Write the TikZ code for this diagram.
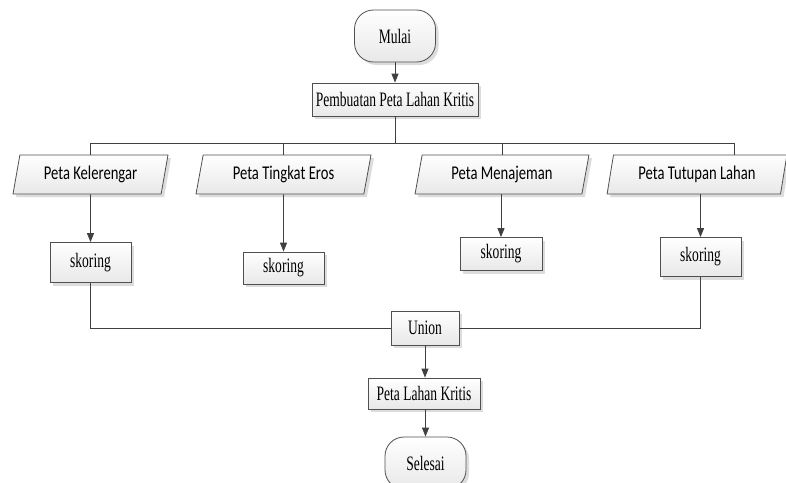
\documentclass[tikz,border=0pt]{standalone}
\usepackage{fontspec}
\newfontfamily\boxfont[FakeStretch=0.66]{Liberation Serif}
\newfontfamily\parafont[FakeStretch=0.75]{Carlito}
\usetikzlibrary{arrows.meta,shapes.geometric,shadows}
\definecolor{linec}{HTML}{404040}
\definecolor{edgec}{HTML}{505050}
\tikzset{
 base/.style={draw=edgec, line width=0.8pt, top color=white, bottom color=gray!18,
   drop shadow={shadow xshift=3pt, shadow yshift=-3pt, fill=gray!45, opacity=0.6},
   inner sep=0pt, font=\boxfont\fontsize{20.5}{22}\selectfont},
 proc/.style={base, rectangle},
 term/.style={base, rectangle, rounded corners=19pt, minimum width=81pt, minimum height=52pt},
 io/.style={base, trapezium, trapezium left angle=75, trapezium right angle=105,
   trapezium stretches=true, minimum height=39pt, font=\parafont\fontsize{19.5}{21}\selectfont},
 conn/.style={draw=linec, line width=0.9pt},
 arr/.style={conn, -{Triangle[length=9pt,width=7pt]}},
}
\begin{document}
\begin{tikzpicture}[x=1pt,y=-1pt]
\clip (0,0) rectangle (786,482);
\fill[white] (0,0) rectangle (786,482);
\node[term] (mulai) at (395,36) {Mulai};
\node[proc, minimum width=166pt, minimum height=33pt] (pemb) at (395,99.5) {Pembuatan Peta Lahan Kritis};
\coordinate (br) at (395,143);
\coordinate (brr) at (734,143);
\node[io, minimum width=155pt] (p1) at (90.5,174.5) {Peta Kelerengar};
\node[io, minimum width=175pt] (p2) at (283.5,174.5) {Peta Tingkat Eros};
\node[io, minimum width=174pt] (p3) at (502,174.5) {Peta Menajeman};
\node[io, minimum width=180pt] (p4) at (697,174.5) {Peta Tutupan Lahan};
\node[proc, minimum width=81pt, minimum height=40pt] (sk1) at (90.5,262.5) {skoring};
\node[proc, minimum width=81pt, minimum height=32pt] (sk2) at (283.5,268) {skoring};
\node[proc, minimum width=82pt, minimum height=33pt] (sk3) at (501,254) {skoring};
\node[proc, minimum width=81pt, minimum height=39pt] (sk4) at (700.5,257) {skoring};
\node[proc, minimum width=68pt, minimum height=34pt] (union) at (425,328) {Union};
\node[proc, minimum width=112pt, minimum height=31pt] (plk) at (424,393.5) {Peta Lahan Kritis};
\node[term] (sel) at (425.5,463) {Selesai};
\coordinate (p4t) at (p4.north -| brr);
\draw[arr] (mulai) -- (pemb);
\draw[conn] (pemb.south) -- (br);
\draw[conn] (p1.north) |- (br);
\draw[conn] (br) -| (p4t);
\draw[conn] (p2.north) -- (p2.north |- br);
\draw[conn] (p3.north) -- (p3.north |- br);
\draw[arr] (p1) -- (sk1);
\draw[arr] (p2) -- (sk2);
\draw[arr] (sk3.north |- p3.south) -- (sk3.north);
\draw[arr] (sk4.north |- p4.south) -- (sk4.north);
\draw[conn] (sk1.south) |- (union.west);
\draw[conn] (sk4.south) |- (union.east);
\draw[arr] (union.south) -- (union.south |- plk.north);
\draw[arr] (plk.south -| sel.north) -- (sel.north);
\end{tikzpicture}
\end{document}
